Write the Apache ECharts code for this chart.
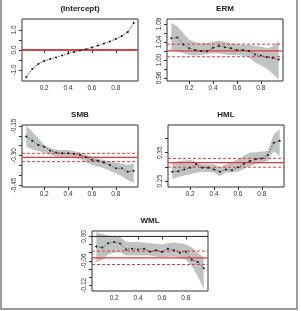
<!DOCTYPE html>
<html><head><meta charset="utf-8">
<script src="https://cdn.jsdelivr.net/npm/echarts@6/dist/echarts.min.js"></script>
<style>html,body{margin:0;padding:0;background:#fff}#c{width:301px;height:311px}</style>
</head><body><div id="c"></div>
<script>
const taus = [0.05,0.10,0.15,0.20,0.25,0.30,0.35,0.40,0.45,0.50,0.55,0.60,0.65,0.70,0.75,0.80,0.85,0.90,0.95];
const panelTitles = ['(Intercept)','ERM','SMB','HML','WML'];

const intEst = [-1.35,-0.95,-0.70,-0.55,-0.45,-0.37,-0.27,-0.18,-0.10,-0.03,0.04,0.13,0.22,0.32,0.42,0.55,0.70,0.90,1.35];
const intLo  = [-1.38,-0.97,-0.72,-0.57,-0.46,-0.38,-0.28,-0.19,-0.11,-0.04,0.03,0.12,0.21,0.31,0.41,0.53,0.68,0.87,1.31];
const intHi  = [-1.32,-0.93,-0.68,-0.53,-0.44,-0.36,-0.26,-0.17,-0.09,-0.02,0.05,0.14,0.23,0.33,0.43,0.57,0.72,0.93,1.39];

const ermEst = [1.048,1.050,1.034,1.026,1.022,1.020,1.019,1.027,1.031,1.028,1.026,1.022,1.022,1.020,1.012,1.010,1.006,1.004,1.001];
const ermLo  = [1.022,1.019,1.015,1.011,1.010,1.011,1.013,1.015,1.014,1.012,1.011,1.011,1.009,1.006,0.995,0.988,0.980,0.969,0.956];
const ermHi  = [1.082,1.075,1.060,1.045,1.040,1.037,1.038,1.040,1.043,1.040,1.037,1.035,1.034,1.033,1.031,1.030,1.026,1.030,1.042];

const smbEst = [-0.204,-0.225,-0.246,-0.255,-0.275,-0.285,-0.289,-0.289,-0.292,-0.297,-0.309,-0.323,-0.326,-0.336,-0.348,-0.365,-0.365,-0.382,-0.377];
const smbLo  = [-0.255,-0.268,-0.277,-0.285,-0.296,-0.306,-0.308,-0.309,-0.314,-0.319,-0.333,-0.348,-0.356,-0.365,-0.378,-0.390,-0.405,-0.424,-0.441];
const smbHi  = [-0.150,-0.179,-0.212,-0.246,-0.262,-0.272,-0.272,-0.272,-0.278,-0.285,-0.295,-0.306,-0.315,-0.323,-0.330,-0.336,-0.342,-0.348,-0.340];

const hmlEst = [0.283,0.285,0.291,0.297,0.309,0.297,0.297,0.291,0.283,0.291,0.288,0.299,0.311,0.321,0.327,0.330,0.342,0.385,0.392];
const hmlLo  = [0.256,0.264,0.270,0.274,0.279,0.283,0.282,0.280,0.268,0.280,0.280,0.283,0.293,0.303,0.310,0.315,0.321,0.356,0.338];
const hmlHi  = [0.315,0.321,0.323,0.324,0.318,0.309,0.309,0.309,0.299,0.309,0.318,0.327,0.340,0.350,0.352,0.354,0.356,0.415,0.433];

const wmlEst = [-0.025,-0.0275,-0.0168,-0.0135,-0.0175,-0.032,-0.030,-0.032,-0.030,-0.0375,-0.034,-0.038,-0.030,-0.034,-0.040,-0.0375,-0.057,-0.0625,-0.078];
const wmlLo  = [-0.0635,-0.057,-0.044,-0.040,-0.038,-0.047,-0.047,-0.047,-0.047,-0.047,-0.050,-0.052,-0.050,-0.049,-0.053,-0.057,-0.073,-0.098,-0.130];
const wmlHi  = [0.010,0.006,0.002,-0.0025,0.000,-0.0135,-0.0135,-0.0135,-0.015,-0.017,-0.018,-0.019,-0.017,-0.015,-0.017,-0.019,-0.027,-0.040,-0.052];

const olsEst = [0.0, 1.020, -0.309, 0.315, -0.0525];
const olsLo  = [-0.015, 1.007, -0.331, 0.299, -0.069];
const olsHi  = [0.015, 1.035, -0.289, 0.330, -0.036];

const xTicks = [0.2,0.4,0.6,0.8];
const yTicks = [
  [-1.0,-0.5,0.0,0.5,1.0],
  [0.96,0.98,1.00,1.02,1.04,1.06,1.08],
  [-0.45,-0.40,-0.35,-0.30,-0.25,-0.20,-0.15],
  [0.25,0.30,0.35,0.40],
  [-0.12,-0.10,-0.08,-0.06,-0.04,-0.02,0.00]
];
const yLabels = [
  [-1.0,0.0,1.0],
  [0.96,1.00,1.04,1.08],
  [-0.45,-0.30,-0.15],
  [0.25,0.35],
  [-0.12,-0.06,0.00]
];
const yDecimals = [1,2,2,2,2];

const estAll = [intEst, ermEst, smbEst, hmlEst, wmlEst];
const loAll = [intLo, ermLo, smbLo, hmlLo, wmlLo];
const hiAll = [intHi, ermHi, smbHi, hmlHi, wmlHi];

// layout
const grids = [
  {left:22, top:19, width:116, height:62},
  {left:167, top:19, width:116, height:62},
  {left:22, top:125, width:116, height:62},
  {left:168, top:125, width:116, height:62},
  {left:92, top:231, width:116, height:60}
];
const xRange = [0.014, 0.986];
const yRange = [[-1.55,1.55],[0.953,1.091],[-0.46,-0.145],[0.229,0.448],[-0.134,0.0133]];
const FONT = 'Liberation Sans, Arial, sans-serif';
const RED = '#e23b3b';

function hLine(i, v, color, width, type, z) {
  return {
    type:'line', xAxisIndex:i, yAxisIndex:i, silent:true, z:z, symbol:'none',
    data:[[xRange[0], v],[xRange[1], v]],
    lineStyle:{color:color, width:width, type:type}
  };
}

const xAxis = [], yAxis = [], series = [], graphic = [];
grids.forEach((g,i)=>{
  g.show = true; g.borderColor = '#333'; g.borderWidth = 1; g.backgroundColor = 'transparent';
  g.containLabel = false;
  xAxis.push({
    type:'value', gridIndex:i, min:xRange[0], max:xRange[1],
    splitLine:{show:false}, axisLine:{show:false},
    axisTick:{show:true, customValues:xTicks, length:3, lineStyle:{color:'#333', width:1}},
    axisLabel:{show:true, customValues:xTicks, fontSize:6.5, color:'#333', margin:4, fontFamily:FONT,
      formatter:v=>v.toFixed(1)}
  });
  yAxis.push({
    type:'value', gridIndex:i, min:yRange[i][0], max:yRange[i][1],
    splitLine:{show:false}, axisLine:{show:false},
    axisTick:{show:true, customValues:yTicks[i], length:3, lineStyle:{color:'#333', width:1}},
    axisLabel:{show:true, customValues:yLabels[i], fontSize:6.5, color:'#333', margin:4, rotate:90, fontFamily:FONT,
      formatter:v=>v.toFixed(yDecimals[i])}
  });
  const lo = loAll[i], hi = hiAll[i], est = estAll[i];
  series.push({
    type:'custom', xAxisIndex:i, yAxisIndex:i, silent:true, z:1, clip:true,
    data:[[0.5, (yRange[i][0]+yRange[i][1])/2]],
    encode:{x:0, y:1},
    renderItem:(params, api)=>{
      const pts = [];
      for (let k=0;k<taus.length;k++) pts.push(api.coord([taus[k], hi[k]]));
      for (let k=taus.length-1;k>=0;k--) pts.push(api.coord([taus[k], lo[k]]));
      return {type:'polygon', shape:{points:pts}, style:{fill:'#bfc3c1', stroke:null}};
    }
  });
  if (yRange[i][0] < 0 && yRange[i][1] > 0) series.push(hLine(i, 0, '#222', 1, 'solid', 2));
  series.push(hLine(i, olsEst[i], RED, 1.3, 'solid', 3));
  series.push(hLine(i, olsLo[i], RED, 1, [3,2], 3));
  series.push(hLine(i, olsHi[i], RED, 1, [3,2], 3));
  series.push({
    type:'line', xAxisIndex:i, yAxisIndex:i, silent:true, z:4,
    data: taus.map((t,k)=>[t, est[k]]),
    symbol:'circle', symbolSize:2, itemStyle:{color:'#111'},
    lineStyle:{color:'#333', width:0.7, type:[1.5,1.5]}
  });
  graphic.push({type:'text', x:g.left + g.width/2, y:g.top - 10,
    style:{text:panelTitles[i], font:'bold 8px '+FONT, fill:'#222', textAlign:'center', textVerticalAlign:'middle'}});
});
graphic.push({type:'line', shape:{x1:1,y1:0,x2:1,y2:310}, style:{stroke:'#9a9a9a', lineWidth:2}});
graphic.push({type:'line', shape:{x1:297,y1:0,x2:297,y2:310}, style:{stroke:'#9a9a9a', lineWidth:2}});
graphic.push({type:'line', shape:{x1:0,y1:309,x2:298,y2:309}, style:{stroke:'#9a9a9a', lineWidth:2}});

const chart = echarts.init(document.getElementById('c'), null, {renderer:'canvas'});
chart.setOption({animation:false, grid:grids, xAxis, yAxis, series, graphic});
</script></body></html>
